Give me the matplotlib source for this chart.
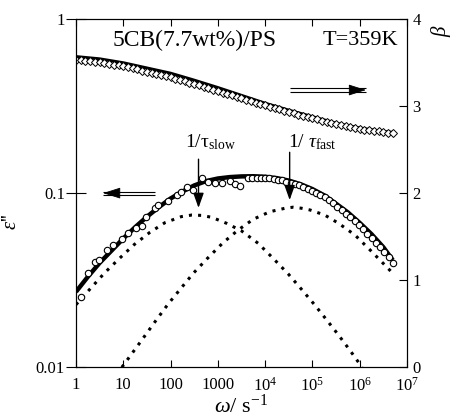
import numpy as np
import matplotlib
matplotlib.use("Agg")
import matplotlib.pyplot as plt
from matplotlib.ticker import FixedLocator, FixedFormatter, NullLocator
from matplotlib.transforms import ScaledTranslation

plt.rcParams["font.family"] = ["Liberation Serif", "DejaVu Serif"]
plt.rcParams["mathtext.fontset"] = "custom"
plt.rcParams["mathtext.rm"] = "Liberation Serif"
plt.rcParams["mathtext.it"] = "Liberation Serif:italic"

# --- data (log10 omega, log10 eps'' / beta) ---
# total fit of eps''
fit_logw = [0.0, 0.25, 0.5, 0.75, 1.0, 1.25, 1.5, 1.75, 2.0, 2.25, 2.5, 2.75, 3.0, 3.25,
            3.5, 3.75, 4.0, 4.25, 4.5, 4.75, 5.0, 5.25, 5.5, 5.75, 6.0, 6.25, 6.5, 6.7]
fit_loge = [-1.566, -1.48, -1.40, -1.33, -1.26, -1.195, -1.135, -1.08, -1.03, -0.99, -0.955,
            -0.93, -0.915, -0.907, -0.903, -0.902, -0.905, -0.913, -0.927, -0.948, -0.976,
            -1.012, -1.06, -1.11, -1.17, -1.235, -1.31, -1.385]

# slow component
slow_logw = [0.0, 0.31, 0.61, 0.92, 1.23, 1.56, 1.88, 2.23, 2.45, 2.65, 2.87, 3.18, 3.50,
             3.85, 4.17, 4.49, 4.77, 5.05, 5.29, 5.55, 5.79, 6.05]
slow_loge = [-1.64, -1.546, -1.456, -1.374, -1.295, -1.225, -1.169, -1.134, -1.125, -1.127,
             -1.138, -1.172, -1.216, -1.287, -1.374, -1.464, -1.552, -1.642, -1.724, -1.814,
             -1.901, -2.0]

# fast component
fast_logw = [0.97, 1.35, 1.72, 1.95, 2.22, 2.48, 2.78, 3.11, 3.43, 3.75, 4.10, 4.42, 4.59,
             4.77, 4.95, 5.26, 5.55, 5.90, 6.22, 6.53, 6.70]
fast_loge = [-2.0, -1.859, -1.72, -1.636, -1.546, -1.46, -1.374, -1.284, -1.211, -1.149,
             -1.106, -1.086, -1.080, -1.086, -1.096, -1.125, -1.172, -1.240, -1.326, -1.412,
             -1.46]

# measured eps''
circ_logw = [0.10, 0.26, 0.40, 0.49, 0.66, 0.79, 0.97, 1.10, 1.26, 1.39, 1.49, 1.67, 1.74,
             1.95, 2.13, 2.23, 2.34, 2.48, 2.66, 2.80, 2.94, 3.08, 3.26, 3.36, 3.47,
             3.64, 3.73, 3.82, 3.91, 4.00, 4.09, 4.18, 4.27, 4.36, 4.45, 4.54, 4.63, 4.72,
             4.81, 4.90, 4.99, 5.08, 5.17, 5.26, 5.35, 5.44, 5.53, 5.62, 5.71, 5.80, 5.89,
             5.98, 6.07, 6.16, 6.25, 6.34, 6.43, 6.52, 6.61, 6.70]
circ_loge = [-1.598, -1.456, -1.393, -1.383, -1.326, -1.297, -1.264, -1.23, -1.201, -1.188,
             -1.134, -1.086, -1.067, -1.043, -1.01, -0.991, -0.962, -0.981, -0.914, -0.933,
             -0.943, -0.943, -0.928, -0.947, -0.958,
             -0.914, -0.912, -0.911, -0.911, -0.912, -0.914, -0.917, -0.921, -0.926, -0.933,
             -0.939, -0.946, -0.954, -0.963, -0.973, -0.984, -0.996, -1.009, -1.023, -1.040,
             -1.058, -1.077, -1.097, -1.117, -1.138, -1.160, -1.183, -1.207, -1.232, -1.258,
             -1.285, -1.310, -1.335, -1.368, -1.400]

# beta fit and measured beta (right axis)
beta_fit_logw = [0.0, 0.5, 1.0, 1.5, 2.0, 2.5, 3.0, 3.5, 4.0, 4.5, 5.0, 5.5, 6.0, 6.5, 6.7]
beta_fit = [3.571, 3.545, 3.50, 3.44, 3.38, 3.30, 3.215, 3.125, 3.035, 2.955, 2.88, 2.805,
            2.75, 2.71, 2.70]
beta_logw = [0.0, 0.1, 0.2, 0.3, 0.4, 0.5, 0.6, 0.7, 0.8, 0.9, 1.0, 1.1, 1.2, 1.3, 1.4,
             1.5, 1.6, 1.7, 1.8, 1.9, 2.0, 2.1, 2.2, 2.3, 2.4, 2.5, 2.6, 2.7, 2.8, 2.9,
             3.0, 3.1, 3.2, 3.3, 3.4, 3.5, 3.6, 3.7, 3.8, 3.9, 4.0, 4.1, 4.2, 4.3, 4.4,
             4.5, 4.6, 4.7, 4.8, 4.9, 5.0, 5.1, 5.2, 5.3, 5.4, 5.5, 5.6, 5.7, 5.8, 5.9,
             6.0, 6.1, 6.2, 6.3, 6.4, 6.5, 6.6, 6.7]
beta_data = [3.53, 3.528, 3.525, 3.52, 3.513, 3.505, 3.497, 3.49, 3.48, 3.47, 3.46, 3.45,
             3.437, 3.425, 3.41, 3.398, 3.385, 3.372, 3.36, 3.346, 3.333, 3.318, 3.303,
             3.288, 3.272, 3.256, 3.24, 3.224, 3.207, 3.19, 3.174, 3.157, 3.14, 3.124,
             3.107, 3.09, 3.074, 3.058, 3.041, 3.025, 3.01, 2.994, 2.979, 2.963, 2.948,
             2.934, 2.92, 2.905, 2.891, 2.877, 2.863, 2.849, 2.835, 2.821, 2.808, 2.795,
             2.783, 2.771, 2.76, 2.75, 2.741, 2.733, 2.726, 2.72, 2.714, 2.705, 2.698, 2.69]

# relaxation rates marked by arrows
rate_slow = 390.0
rate_fast = 3.3e4

x_ticks = [1, 10, 100, 1000, 1e4, 1e5, 1e6, 1e7]
x_labels = ["1", "10", "100", "1000", r"$\mathregular{10^4}$", r"$\mathregular{10^5}$",
            r"$\mathregular{10^6}$", r"$\mathregular{10^7}$"]
y_ticks = [0.01, 0.1, 1]
y_labels = ["0.01", "0.1", "1"]
beta_ticks = [0, 1, 2, 3, 4]


def pw(v):
    return 10 ** np.asarray(v)


fig = plt.figure(figsize=(4.55, 4.19), dpi=100)
ax = fig.add_axes([0.167, 0.1234, 0.7275, 0.8306])
ax2 = ax.twinx()
ax.set_zorder(ax2.get_zorder() + 1)
ax.patch.set_visible(False)

# right axis: beta
ax2.plot(pw(beta_fit_logw), beta_fit, color="k", lw=2.2, solid_capstyle="butt", zorder=2)
ax2.plot(pw(beta_logw), beta_data, ls="none", marker="D", ms=3.6, mfc="white",
         mec="k", mew=0.7, zorder=3)
ax2.set_ylim(0, 4)
ax2.yaxis.set_major_locator(FixedLocator(beta_ticks))
ax2.yaxis.set_minor_locator(NullLocator())
ax2.tick_params(axis="y", direction="in", length=6, width=0.8, labelsize=12, pad=4)
ax2.set_ylabel("β", fontsize=15, fontstyle="italic", rotation=90)
ax2.yaxis.set_label_coords(1.075, 0.965)

# left axis: eps''
ax.plot(pw(fit_logw), pw(fit_loge), color="k", lw=3.2, solid_capstyle="butt", zorder=2)
dot = dict(color="k", lw=2.2, ls=(0, (1, 2)), zorder=2)
ax.plot(pw(slow_logw), pw(slow_loge), **dot)
ax.plot(pw(fast_logw), pw(fast_loge), **dot)
ax.plot(pw(circ_logw), pw(circ_loge), ls="none", marker="o", ms=4.6, mfc="white",
        mec="k", mew=0.8, zorder=3)

ax.set_xscale("log")
ax.set_yscale("log")
ax.set_xlim(1, 1e7)
ax.set_ylim(0.01, 1)
ax.xaxis.set_major_locator(FixedLocator(x_ticks))
ax.xaxis.set_major_formatter(FixedFormatter(x_labels))
ax.xaxis.set_minor_locator(NullLocator())
ax.yaxis.set_major_locator(FixedLocator(y_ticks))
ax.yaxis.set_major_formatter(FixedFormatter(y_labels))
ax.yaxis.set_minor_locator(NullLocator())
ax.tick_params(axis="x", direction="in", length=5, width=0.8, labelsize=12, pad=7,
               top=True)
ax.tick_params(axis="y", direction="inout", length=14, width=0.8, labelsize=12, pad=1,
               right=False)
ax2.xaxis.set_visible(False)
for a in (ax, ax2):
    for s in a.spines.values():
        s.set_linewidth(0.8)

ax.set_xlabel(r"$\omega$/ s$^{\mathregular{-1}}$", fontsize=16, labelpad=0)
ax.set_ylabel(r"$\varepsilon$''", fontsize=15)
ax.yaxis.set_label_coords(-0.165, 0.42)

ax.text(0.112, 0.94, "5CB(7.7wt%)/PS", transform=ax.transAxes, fontsize=17,
        ha="left", va="center")
ax.text(0.973, 0.94, "T=359K", transform=ax.transAxes, fontsize=16,
        ha="right", va="center")

# relaxation-rate arrows
head = dict(arrowstyle="-|>,head_length=0.9,head_width=0.32", color="k", lw=1.0,
            shrinkA=0, shrinkB=0)
ax.annotate("", xy=(rate_slow, 0.0824), xytext=(rate_slow, 0.157), arrowprops=head)
ax.annotate("", xy=(rate_fast, 0.0914), xytext=(rate_fast, 0.172), arrowprops=head)
ax.text(0.329, 0.633, r"1/$\mathrm{\tau}_{\mathrm{slow}}$", transform=ax.transAxes,
        fontsize=14, ha="left", va="baseline")
ax.text(0.64, 0.633, r"1/ $\tau_{\mathrm{fast}}$", transform=ax.transAxes,
        fontsize=14, ha="left", va="baseline")


# double-shafted arrows telling which axis a curve belongs to
def double_arrow(x_tail, x_tip, y):
    for off in (-1.6, 1.6):
        tr = ax.transAxes + ScaledTranslation(0, off / 100, fig.dpi_scale_trans)
        ax.plot([x_tail, x_tip], [y, y], color="k", lw=0.8, transform=tr,
                solid_capstyle="butt")
    step = 0.02 if x_tip > x_tail else -0.02
    ax.annotate("", xy=(x_tip, y), xytext=(x_tip - step, y), xycoords="axes fraction",
                arrowprops=dict(arrowstyle="-|>,head_length=1.1,head_width=0.35",
                                color="k", lw=0.6, shrinkA=0, shrinkB=0))


double_arrow(0.239, 0.082, 0.5005)
double_arrow(0.646, 0.876, 0.7967)

fig.savefig("out.png", dpi=100)
